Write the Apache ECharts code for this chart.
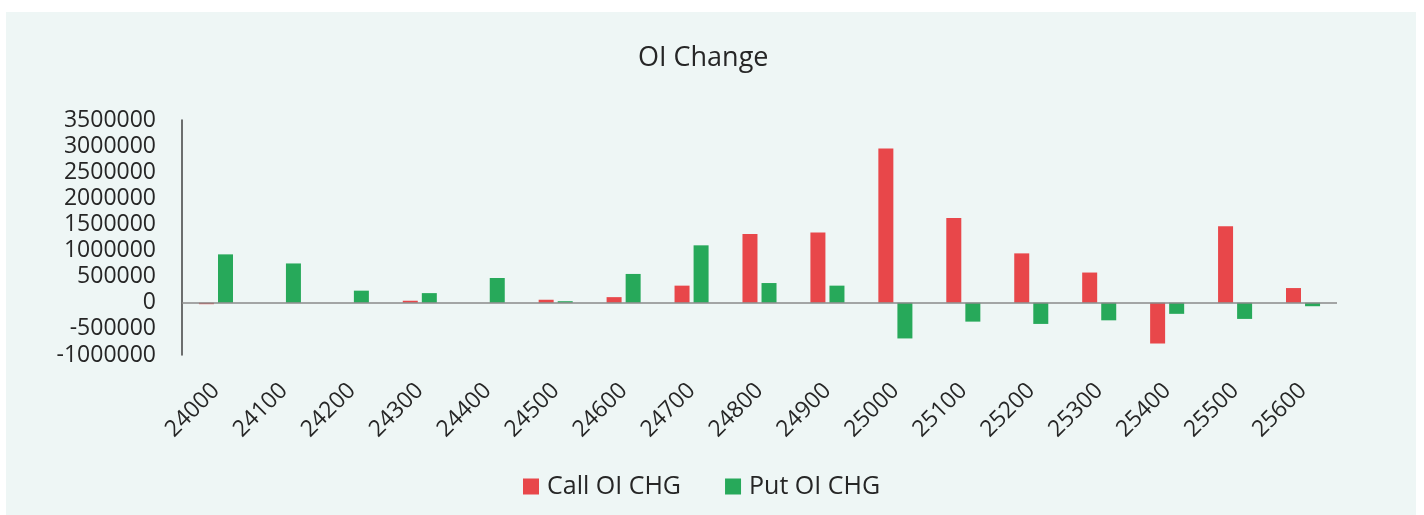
<!DOCTYPE html>
<html>
<head>
<meta charset="utf-8">
<script src="https://cdn.jsdelivr.net/npm/echarts@6/dist/echarts.min.js"></script>
<style>
html,body{margin:0;padding:0;background:#ffffff;}
#chart{width:1424px;height:515px;}
</style>
</head>
<body>
<div id="chart"></div>
<script>
const categories = ['24000','24100','24200','24300','24400','24500','24600','24700','24800','24900','25000','25100','25200','25300','25400','25500','25600'];
const callOIChg = [-27000, 0, 0, 39000, 0, 58000, 108000, 328000, 1319000, 1344000, 2954000, 1622000, 946000, 579000, -780000, 1467000, 282000];
const putOIChg  = [927000, 753000, 232000, 185000, 475000, 30000, 552000, 1100000, 378000, 328000, -683000, -361000, -405000, -336000, -212000, -309000, -66000];
const yTicks = [-1000000, -500000, 0, 500000, 1000000, 1500000, 2000000, 2500000, 3000000, 3500000];
const seriesNames = ['Call OI CHG', 'Put OI CHG'];
const titleText = 'OI Change';

const FONT = '"Open Sans", "DejaVu Sans", sans-serif';
const chart = echarts.init(document.getElementById('chart'), null, {renderer: 'canvas'});
chart.setOption({
  animation: false,
  backgroundColor: '#ffffff',
  graphic: [{
    type: 'rect', z: -10, silent: true,
    shape: {x: 6, y: 12, width: 1410, height: 503},
    style: {fill: '#EEF6F5'}
  }],
  title: {
    text: titleText, left: 633, top: 40,
    textStyle: {fontFamily: FONT, fontSize: 27, fontWeight: 'normal', color: '#262626'}
  },
  legend: {
    data: seriesNames, left: 518, top: 469,
    itemWidth: 16, itemHeight: 16, itemGap: 44, icon: 'rect',
    textStyle: {fontFamily: FONT, fontSize: 25, color: '#262626', padding: [0, 0, 0, 3]}
  },
  grid: {left: 182, right: 87, top: 120, bottom: 160, containLabel: false},
  xAxis: {
    type: 'category', data: categories,
    axisLine: {show: false, onZero: false},
    axisTick: {show: false},
    splitLine: {show: false},
    axisLabel: {rotate: 45, margin: 32, fontFamily: FONT, fontSize: 23, color: '#262626', interval: 0}
  },
  yAxis: {
    type: 'value', min: yTicks[0], max: yTicks[yTicks.length - 1], interval: yTicks[1] - yTicks[0],
    axisLine: {show: true, lineStyle: {color: '#404040', width: 1.5}},
    axisTick: {show: false},
    splitLine: {show: false},
    axisLabel: {margin: 26, fontFamily: FONT, fontSize: 23, color: '#262626', formatter: v => String(v)}
  },
  series: [
    {
      name: seriesNames[0], type: 'bar', data: callOIChg, barWidth: 15, barGap: '27%',
      itemStyle: {color: '#E8474A'},
      markLine: {
        silent: true, symbol: 'none', label: {show: false},
        lineStyle: {color: '#8A8A8A', width: 1.5, type: 'solid'},
        data: [{yAxis: 0}]
      }
    },
    {
      name: seriesNames[1], type: 'bar', data: putOIChg, barWidth: 15,
      itemStyle: {color: '#27A95A'}
    }
  ]
});
</script>
</body>
</html>
